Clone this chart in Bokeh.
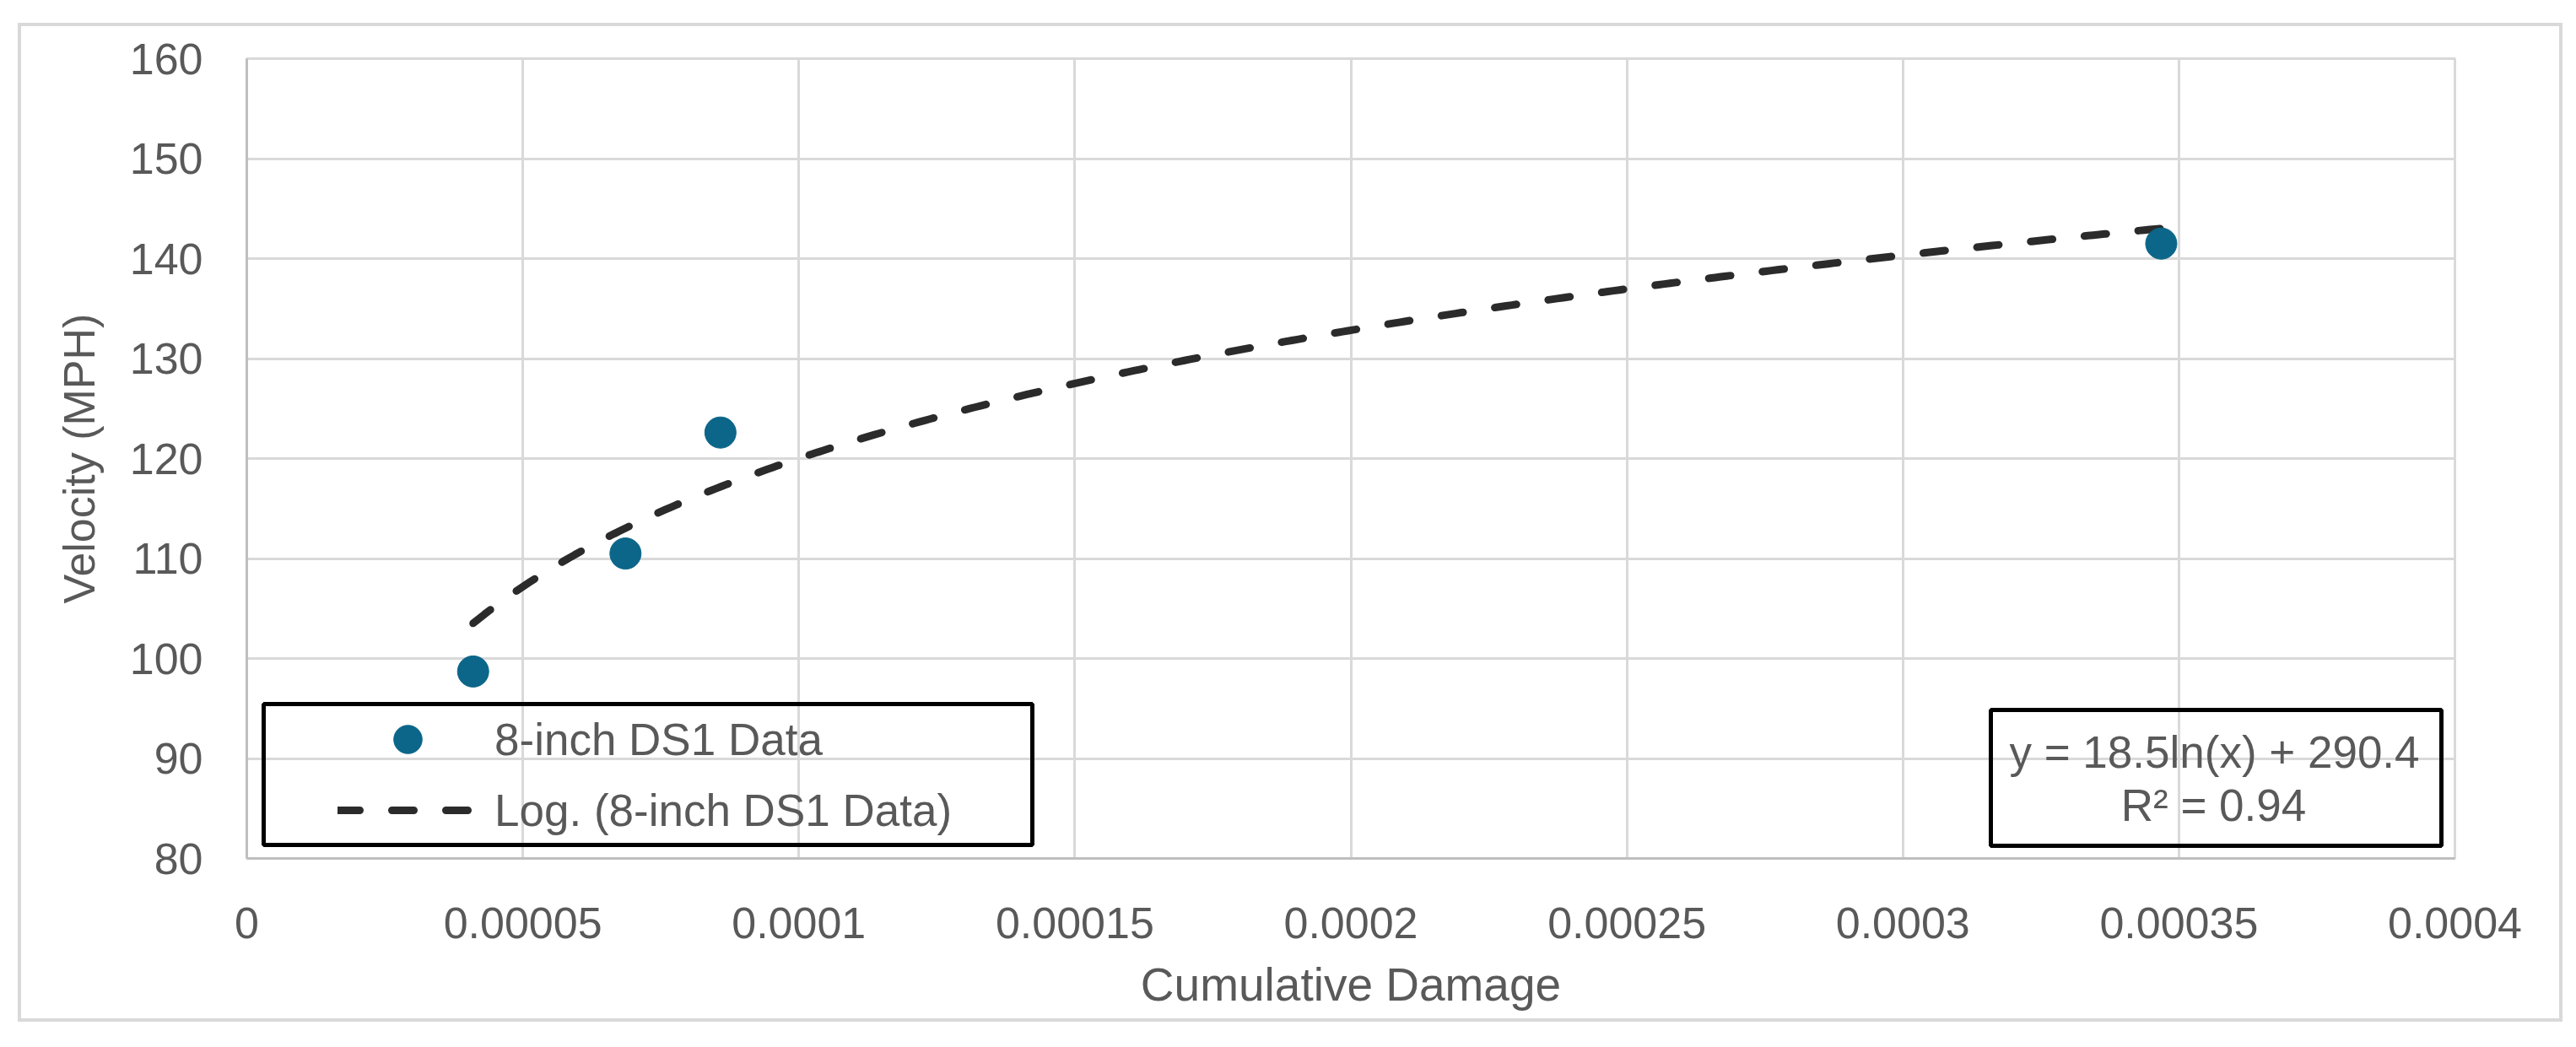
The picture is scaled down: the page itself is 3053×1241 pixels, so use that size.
import numpy as np
from bokeh.plotting import figure
from bokeh.models import (FixedTicker, Legend, LegendItem, BoxAnnotation, Label,
                          ColumnDataSource, Range1d)
from bokeh.embed import file_html
from bokeh.resources import INLINE

# ---- data ----
damage = [0.0000410, 0.0000686, 0.0000858, 0.0003468]
velocity = [98.7, 110.5, 122.6, 141.5]
series_name = "8-inch DS1 Data"
trend_name = "Log. (8-inch DS1 Data)"
trend_slope = 18.5
trend_intercept = 290.4
r_squared = 0.94
x_ticks = [0, 0.00005, 0.0001, 0.00015, 0.0002, 0.00025, 0.0003, 0.00035, 0.0004]
x_tick_labels = ["0", "0.00005", "0.0001", "0.00015", "0.0002", "0.00025", "0.0003", "0.00035", "0.0004"]
y_ticks = [80, 90, 100, 110, 120, 130, 140, 150, 160]
x_title = "Cumulative Damage"
y_title = "Velocity (MPH)"

FONT = "Liberation Sans"
TXT = "#595959"
GRID = "#d9d9d9"
MARK = "#0b6689"
TREND = "#2b2b2b"

W, H = 3037, 1225
FL, FT, FR, FB = 292, 69, 2909, 1017   # plot frame edges in canvas pixels
p = figure(width=W, height=H, output_backend="svg", toolbar_location=None,
           x_range=Range1d(0, 0.0004), y_range=Range1d(80, 160),
           min_border_left=FL, min_border_right=W - FR, min_border_top=FT, min_border_bottom=H - FB)
p.background_fill_color = "white"
p.border_fill_alpha = 0
p.outline_line_color = GRID
p.outline_line_width = 3

# chart-area border (light grey rectangle around the whole chart), drawn by the host element
p.styles = {
    "background-color": "white",
    "box-shadow": ("inset 21px 0 0 0 #ffffff, inset 0 27px 0 0 #ffffff, inset 0 -14px 0 0 #ffffff, "
                   "inset 25px 0 0 0 #d9d9d9, inset 0 31px 0 0 #d9d9d9, "
                   "inset -4px 0 0 0 #d9d9d9, inset 0 -18px 0 0 #d9d9d9"),
}

p.xaxis.ticker = FixedTicker(ticks=x_ticks)
p.yaxis.ticker = FixedTicker(ticks=y_ticks)
p.xaxis.major_label_overrides = {t: s for t, s in zip(x_ticks, x_tick_labels)}
for ax in (p.xaxis, p.yaxis):
    ax.major_tick_line_color = None
    ax.minor_tick_line_color = None
    ax.major_tick_out = 0
    ax.major_tick_in = 0
    ax.axis_line_color = "#bfbfbf"
    ax.axis_line_width = 3
    ax.major_label_text_font = FONT
    ax.major_label_text_font_size = "52px"
    ax.major_label_text_color = TXT
    ax.axis_label_text_font = FONT
    ax.axis_label_text_font_style = "normal"
    ax.axis_label_text_color = TXT
p.xaxis.axis_label = x_title
p.yaxis.axis_label = y_title
p.xaxis.axis_label_text_font_size = "55px"
p.yaxis.axis_label_text_font_size = "52px"
p.xaxis.major_label_standoff = 58
p.yaxis.major_label_standoff = 52
p.xaxis.axis_label_standoff = 21
p.yaxis.axis_label_standoff = 28

p.grid.grid_line_color = GRID
p.grid.grid_line_width = 3

# trend line from the chart's stated equation, over the data's x span
tx = np.linspace(min(damage), max(damage), 300)
ty = trend_slope * np.log(tx) + trend_intercept
line_r = p.line(tx, ty, line_color=TREND, line_width=9, line_dash="26 38", line_cap="round")

src = ColumnDataSource(dict(x=damage, y=velocity))
pts_r = p.scatter("x", "y", source=src, size=37, fill_color=MARK, line_color=MARK)

# legend
legend = Legend(items=[LegendItem(label=series_name, renderers=[pts_r]),
                       LegendItem(label=trend_name, renderers=[line_r])],
                location=(108, 15), orientation="vertical",
                glyph_width=166, glyph_height=84, label_height=84, spacing=0,
                padding=0, margin=0, label_standoff=20,
                label_text_font=FONT, label_text_font_size="53px", label_text_color=TXT,
                border_line_alpha=0, background_fill_alpha=0)
p.add_layout(legend)

# legend box and equation box in canvas pixels
def box(l, r, t, b, color, width):
    return BoxAnnotation(left=l, right=r, top=t, bottom=b,
                         left_units="canvas", right_units="canvas",
                         top_units="canvas", bottom_units="canvas",
                         fill_alpha=0, line_color=color, line_alpha=1.0, line_width=width)

p.add_layout(box(312, 1223, 834, 1001, "black", 5))
p.add_layout(box(2359, 2893, 841, 1002, "black", 5))

eq1 = f"y = {trend_slope}ln(x) + {trend_intercept}"
eq2 = f"R\u00b2 = {r_squared}"
p.add_layout(Label(x=2332, y=126, x_units="screen", y_units="screen", text=eq1,
                   text_align="center", text_baseline="middle", text_font=FONT,
                   text_font_size="53px", text_color=TXT))
p.add_layout(Label(x=2331, y=63, x_units="screen", y_units="screen", text=eq2,
                   text_align="center", text_baseline="middle", text_font=FONT,
                   text_font_size="53px", text_color=TXT))

open("out.html", "w").write(file_html(p, INLINE))
